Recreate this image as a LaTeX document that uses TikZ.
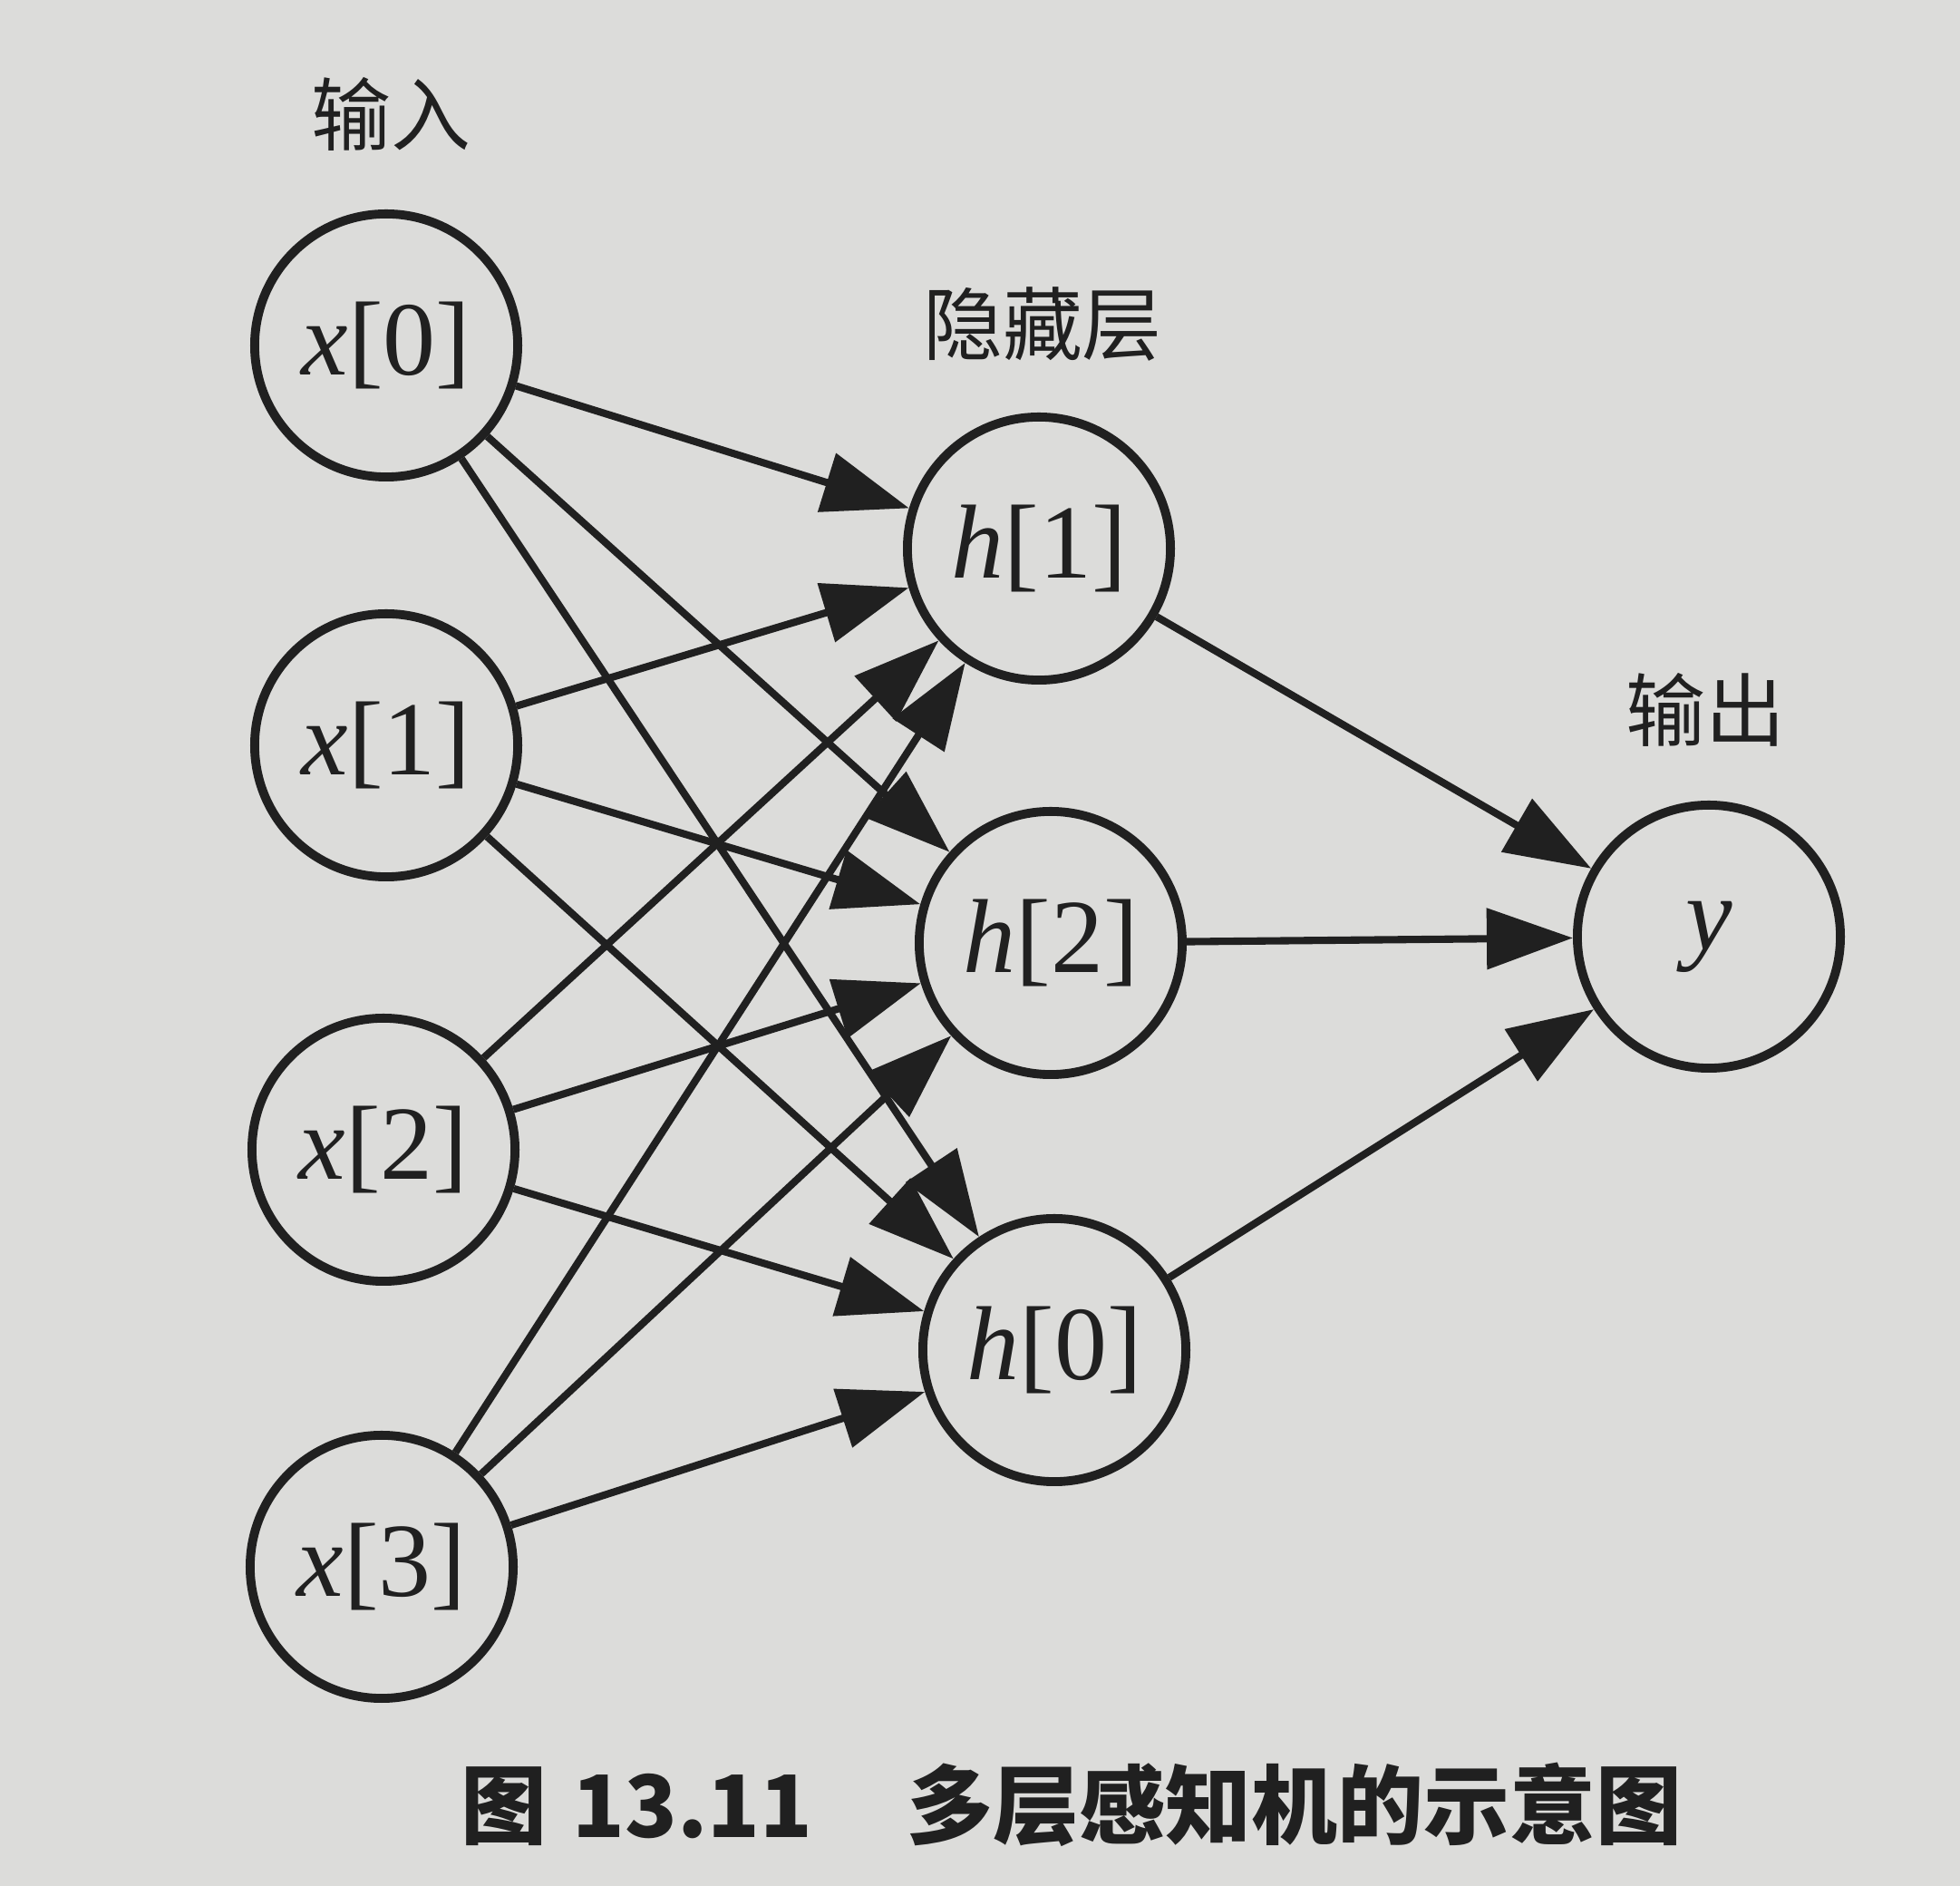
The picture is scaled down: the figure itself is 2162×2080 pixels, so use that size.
\documentclass[tikz,border=0pt]{standalone}
\usepackage{fontspec}
\newfontfamily\cjk{Noto Sans CJK SC}
\newfontfamily\lbl{Liberation Serif}
\usetikzlibrary{arrows.meta}
\definecolor{bgcol}{RGB}{220,220,218}
\definecolor{ink}{RGB}{32,32,32}
\newcommand{\vlab}[2]{{\itshape #1\/}[#2]}
\begin{document}
\begin{tikzpicture}[x=0.01cm,y=-0.01cm,
  neuron/.style={circle, draw=ink, line width=2.8pt, minimum size=2.9cm, inner sep=0pt, text=ink, font=\lbl\fontsize{33}{38}\selectfont},
  conn/.style={draw=ink, line width=2.3pt, -{Triangle[length=0.95cm,width=0.66cm]}},
  layerlabel/.style={font=\cjk\fontsize{25}{30}\selectfont, text=ink, inner sep=0pt},
  captionlabel/.style={font=\cjk\bfseries\fontsize{27}{32}\selectfont, text=ink, inner sep=0pt}]
\fill[bgcol] (0,0) rectangle (2162,2080);
\useasboundingbox (0,0) rectangle (2162,2080);
% input layer
\node[neuron] (x0) at (426,381)  {\vlab{x}{0}};
\node[neuron] (x1) at (426,822)  {\vlab{x}{1}};
\node[neuron] (x2) at (423,1268) {\vlab{x}{2}};
\node[neuron] (x3) at (421,1728) {\vlab{x}{3}};
% hidden layer
\node[neuron] (h1) at (1146,605)  {\vlab{h}{1}};
\node[neuron] (h2) at (1159,1040) {\vlab{h}{2}};
\node[neuron] (h0) at (1163,1489) {\vlab{h}{0}};
% output
\node[neuron] (y) at (1885,1033) {\itshape y};
% labels
\node[layerlabel] (linput) at (431,126) {输入};
\node[layerlabel] (lhidden) at (1150,358) {隐藏层};
\node[layerlabel] (loutput) at (1881,783) {输出};
\node[captionlabel] (caption) at (1182,1990) {图\hspace{0.3em}13.11\hspace{1.1em}多层感知机的示意图};
% connections
\foreach \s in {x0,x1,x2,x3}{
  \foreach \t in {h1,h2,h0}{
    \draw[conn] (\s) -- (\t);
  }
}
\foreach \s in {h1,h2,h0}{
  \draw[conn] (\s) -- (y);
}
\end{tikzpicture}
\end{document}
